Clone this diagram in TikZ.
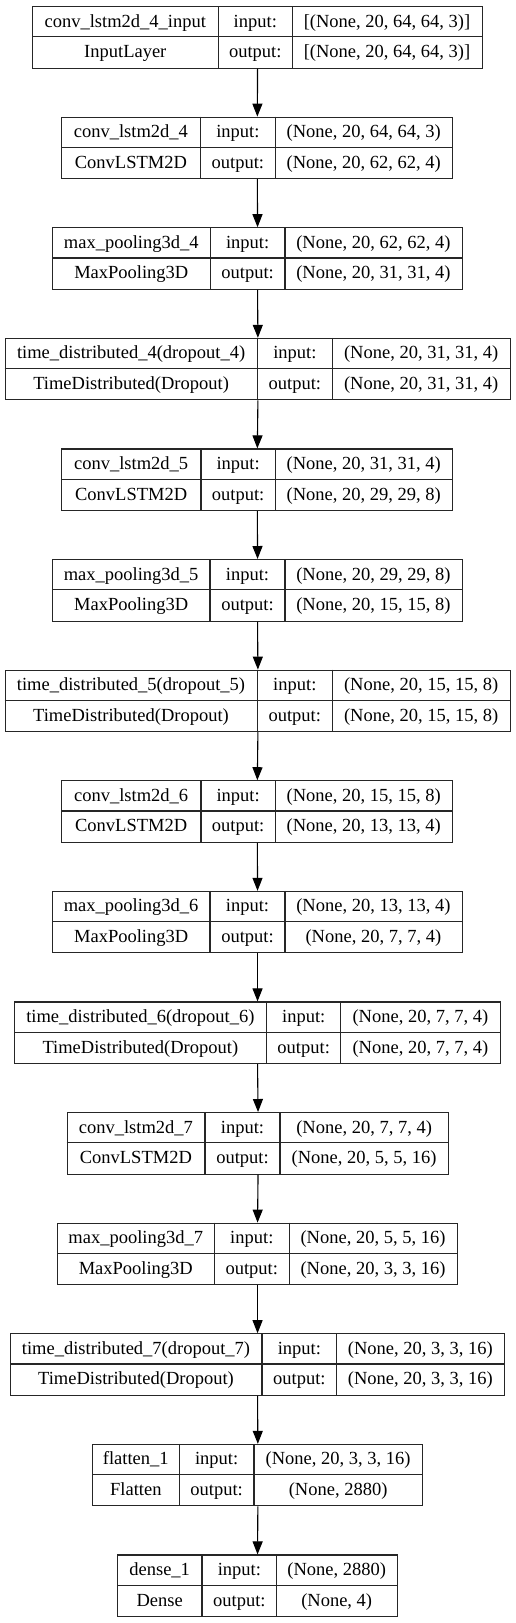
\documentclass[tikz,border=0pt]{standalone}
\usepackage{fontspec}
\setmainfont{Liberation Serif}
\usetikzlibrary{arrows.meta}
\tikzset{
  lbl/.style={font=\fontsize{18.5}{22}\selectfont, inner sep=0pt, anchor=base},
  outerbox/.style={draw=black!85, line width=1.1pt, inner sep=0pt, anchor=north west, minimum height=61.5pt},
  cell/.style={draw=black!85, line width=1.1pt},
  flow/.style={-{Triangle[length=13pt,width=10pt]}, line width=1.1pt, draw=black},
}
\def\lyparse#1/#2/#3/#4/#5\relax{\def\lyT{#1}\def\lyXL{#2}\def\lyDA{#3}\def\lyDB{#4}\def\lyXR{#5}}
% #1 id, #2 top/xL/d1/d2/xR, #3 name, #4 type, #5 input, #6 output
\newcommand\layerbox[6]{%
  \lyparse#2\relax
  \node[outerbox, minimum width={(\lyXR-\lyXL)*1pt}] (#1) at (\lyXL,\lyT) {};
  \draw[cell] (\lyXL,{\lyT+30.75}) -- (\lyXR,{\lyT+30.75});
  \draw[cell] (\lyDA,\lyT) -- (\lyDA,{\lyT+61.5});
  \draw[cell] (\lyDB,\lyT) -- (\lyDB,{\lyT+61.5});
  \node[lbl] (#1-name) at ({(\lyXL+\lyDA)/2},{\lyT+21}) {#3};
  \node[lbl] (#1-type) at ({(\lyXL+\lyDA)/2},{\lyT+51.7}) {#4};
  \node[lbl] (#1-il) at ({(\lyDA+\lyDB)/2},{\lyT+21}) {input:};
  \node[lbl] (#1-ol) at ({(\lyDA+\lyDB)/2},{\lyT+51.7}) {output:};
  \node[lbl] (#1-in) at ({(\lyDB+\lyXR)/2},{\lyT+21}) {#5};
  \node[lbl] (#1-out) at ({(\lyDB+\lyXR)/2},{\lyT+51.7}) {#6};
}
\begin{document}
\begin{tikzpicture}[x=1pt, y=-1pt]
\fill[white] (0,0) rectangle (515,1623);
\useasboundingbox (0,0) rectangle (515,1623);

\layerbox{in1}{6/32.3/218.3/292.3/481.7}{conv\_lstm2d\_4\_input}{InputLayer}{[(None, 20, 64, 64, 3)]}{[(None, 20, 64, 64, 3)]}
\layerbox{c4}{116.6/61.3/200.5/275.3/452.3}{conv\_lstm2d\_4}{ConvLSTM2D}{(None, 20, 64, 64, 3)}{(None, 20, 62, 62, 4)}
\layerbox{m4}{227.2/52.3/210.3/285/461.7}{max\_pooling3d\_4}{MaxPooling3D}{(None, 20, 62, 62, 4)}{(None, 20, 31, 31, 4)}
\layerbox{t4}{337.8/4.7/257.5/332.3/510}{time\_distributed\_4(dropout\_4)}{TimeDistributed(Dropout)}{(None, 20, 31, 31, 4)}{(None, 20, 31, 31, 4)}
\layerbox{c5}{448.4/61.3/201/275.3/452.3}{conv\_lstm2d\_5}{ConvLSTM2D}{(None, 20, 31, 31, 4)}{(None, 20, 29, 29, 8)}
\layerbox{m5}{559/52.3/210/285/461.7}{max\_pooling3d\_5}{MaxPooling3D}{(None, 20, 29, 29, 8)}{(None, 20, 15, 15, 8)}
\layerbox{t5}{669.6/4.7/257.3/332.3/510}{time\_distributed\_5(dropout\_5)}{TimeDistributed(Dropout)}{(None, 20, 15, 15, 8)}{(None, 20, 15, 15, 8)}
\layerbox{c6}{780.2/61.3/201/275.3/452.3}{conv\_lstm2d\_6}{ConvLSTM2D}{(None, 20, 15, 15, 8)}{(None, 20, 13, 13, 4)}
\layerbox{m6}{890.8/52.3/210/285/461.7}{max\_pooling3d\_6}{MaxPooling3D}{(None, 20, 13, 13, 4)}{(None, 20, 7, 7, 4)}
\layerbox{t6}{1001.4/14/266.7/340.7/500}{time\_distributed\_6(dropout\_6)}{TimeDistributed(Dropout)}{(None, 20, 7, 7, 4)}{(None, 20, 7, 7, 4)}
\layerbox{c7}{1112/66.7/205/280/448.3}{conv\_lstm2d\_7}{ConvLSTM2D}{(None, 20, 7, 7, 4)}{(None, 20, 5, 5, 16)}
\layerbox{m7}{1222.6/57.3/214.3/289.3/456.7}{max\_pooling3d\_7}{MaxPooling3D}{(None, 20, 5, 5, 16)}{(None, 20, 3, 3, 16)}
\layerbox{t7}{1333.2/10/262/336.7/504}{time\_distributed\_7(dropout\_7)}{TimeDistributed(Dropout)}{(None, 20, 3, 3, 16)}{(None, 20, 3, 3, 16)}
\layerbox{f1}{1443.8/92.3/179.3/254/422.3}{flatten\_1}{Flatten}{(None, 20, 3, 3, 16)}{(None, 2880)}
\layerbox{d1}{1554.4/117.3/202/276.7/396.7}{dense\_1}{Dense}{(None, 2880)}{(None, 4)}

\draw[flow] (in1.south) -- (c4.north);
\draw[flow] (c4.south) -- (m4.north);
\draw[flow] (m4.south) -- (t4.north);
\draw[flow] (t4.south) -- (c5.north);
\draw[flow] (c5.south) -- (m5.north);
\draw[flow] (m5.south) -- (t5.north);
\draw[flow] (t5.south) -- (c6.north);
\draw[flow] (c6.south) -- (m6.north);
\draw[flow] (m6.south) -- (t6.north);
\draw[flow] (t6.south) -- (c7.north);
\draw[flow] (c7.south) -- (m7.north);
\draw[flow] (m7.south) -- (t7.north);
\draw[flow] (t7.south) -- (f1.north);
\draw[flow] (f1.south) -- (d1.north);
\end{tikzpicture}
\end{document}
